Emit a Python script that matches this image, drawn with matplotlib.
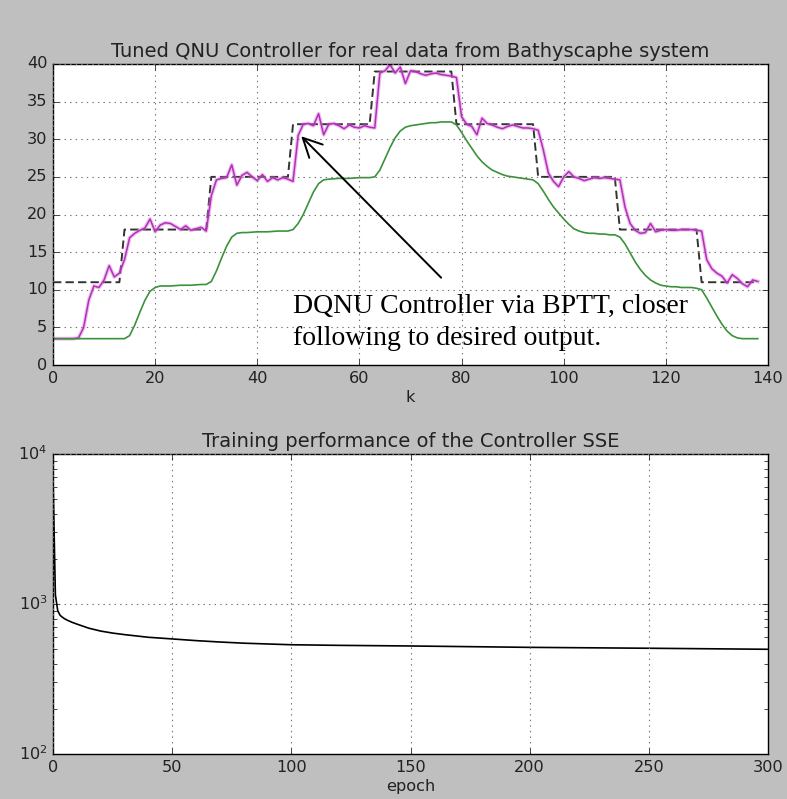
import numpy as np
import matplotlib
matplotlib.use("Agg")
import matplotlib.pyplot as plt

plt.style.use("classic")

# ---------------- data ----------------
desired = [11, 11, 11, 11, 11, 11, 11, 11, 11, 11, 11, 11, 11, 11,
           18, 18, 18, 18, 18, 18, 18, 18, 18, 18, 18, 18, 18, 18, 18, 18, 18,
           25, 25, 25, 25, 25, 25, 25, 25, 25, 25, 25, 25, 25, 25, 25, 25,
           32, 32, 32, 32, 32, 32, 32, 32, 32, 32, 32, 32, 32, 32, 32, 32,
           39, 39, 39, 39, 39, 39, 39, 39, 39, 39, 39, 39, 39, 39, 39, 39,
           32, 32, 32, 32, 32, 32, 32, 32, 32, 32, 32, 32, 32, 32, 32, 32,
           25, 25, 25, 25, 25, 25, 25, 25, 25, 25, 25, 25, 25, 25, 25, 25,
           18, 18, 18, 18, 18, 18, 18, 18, 18, 18, 18, 18, 18, 18, 18, 18,
           11, 11, 11, 11, 11, 11, 11, 11, 11, 11, 11, 11]

controlled = [3.5, 3.5, 3.5, 3.5, 3.5, 3.6, 5.0, 8.6, 10.5, 10.3,
              11.3, 13.2, 11.7, 12.2, 14.0, 16.9, 17.5, 17.9, 18.2, 19.4,
              17.7, 18.6, 18.9, 18.8, 18.4, 18.0, 18.5, 17.9, 18.1, 18.3,
              17.8, 22.5, 24.6, 24.8, 24.9, 26.6, 23.9, 25.2, 25.6, 25.0,
              24.5, 25.3, 24.4, 24.9, 24.6, 24.9, 24.7, 24.4, 30.5, 32.0,
              32.1, 31.8, 33.4, 30.6, 32.0, 32.1, 31.8, 31.4, 31.9, 31.6,
              31.5, 31.8, 31.6, 31.5, 38.8, 39.1, 39.9, 38.8, 39.6, 37.4,
              39.1, 39.0, 38.7, 38.5, 38.7, 38.8, 38.6, 38.5, 38.4, 38.2,
              33.0, 32.0, 31.7, 30.6, 32.8, 32.1, 31.9, 31.6, 31.4, 31.7,
              31.9, 31.7, 31.5, 31.5, 31.4, 31.2, 28.6, 25.5, 24.4, 23.7,
              25.0, 25.7, 25.0, 24.8, 24.5, 24.7, 24.9, 24.8, 24.9, 24.8,
              24.7, 24.6, 21.0, 18.8, 17.9, 17.5, 17.6, 18.8, 17.7, 17.9,
              18.0, 17.9, 17.9, 18.0, 18.0, 18.0, 17.9, 17.8, 14.0, 12.8,
              12.2, 11.8, 10.9, 12.0, 11.5, 10.8, 10.4, 11.3, 11.1]

tuned = [3.5, 3.5, 3.5, 3.5, 3.5, 3.5, 3.5, 3.5, 3.5, 3.5,
         3.5, 3.5, 3.5, 3.5, 3.5, 3.9, 5.3, 7.0, 8.6, 9.8,
         10.3, 10.5, 10.5, 10.5, 10.55, 10.6, 10.6, 10.6, 10.65, 10.7,
         10.7, 11.1, 12.5, 14.2, 15.8, 17.0, 17.5, 17.6, 17.6, 17.65,
         17.7, 17.7, 17.7, 17.75, 17.8, 17.8, 17.8, 18.0, 18.8, 20.0,
         21.5, 23.0, 24.1, 24.6, 24.7, 24.75, 24.8, 24.8, 24.8, 24.85,
         24.9, 24.9, 24.9, 25.0, 25.9, 27.4, 28.9, 30.2, 31.1, 31.6,
         31.8, 31.9, 32.0, 32.1, 32.2, 32.2, 32.3, 32.3, 32.3, 31.9,
         30.9, 29.8, 28.8, 27.8, 27.0, 26.4, 25.9, 25.6, 25.3, 25.1,
         25.0, 24.9, 24.8, 24.7, 24.6, 24.1, 23.1, 22.0, 21.0, 20.2,
         19.4, 18.7, 18.1, 17.8, 17.6, 17.5, 17.5, 17.4, 17.4, 17.3,
         17.3, 17.0, 16.1, 14.9, 13.7, 12.7, 11.9, 11.3, 10.9, 10.6,
         10.5, 10.4, 10.4, 10.3, 10.3, 10.3, 10.2, 10.0, 8.9, 7.7,
         6.5, 5.4, 4.5, 3.9, 3.6, 3.5, 3.5, 3.5, 3.5]

sse_epoch = [0, 1, 2, 3, 4, 5, 6, 8, 10, 15, 20, 25, 30, 40, 50, 60, 70,
             80, 100, 120, 150, 200, 250, 300]
sse_value = [7000, 1150, 900, 840, 815, 795, 780, 755, 735, 690, 660, 640,
             625, 600, 585, 570, 558, 548, 535, 530, 525, 514, 507, 499]

top_title = "Tuned QNU Controller for real data from Bathyscaphe system"
bottom_title = "Training performance of the Controller SSE"
note_line1 = "DQNU Controller via BPTT, closer"
note_line2 = "following to desired output."

# ---------------- figure ----------------
W, H = 787, 799
fig = plt.figure(figsize=(W / 100, H / 100), dpi=100, facecolor="#bfbfbf")

def rect(l, r, t, b):
    return [l / W, 1 - b / H, (r - l) / W, (b - t) / H]

ax1 = fig.add_axes(rect(53, 768, 64, 365))
ax2 = fig.add_axes(rect(53, 768, 454, 754))

tick_fs = 11.6
title_fs = 14.0
text_color = "#222222"

# top plot
ax1.plot(np.arange(len(desired)), desired, color="k", ls="--",
         dashes=(6, 3), lw=1.4, alpha=0.8)
ax1.plot(np.arange(len(controlled)), controlled, color="#e070e0",
         lw=2.8, alpha=0.45, solid_joinstyle="round")
ax1.plot(np.arange(len(controlled)), controlled, color="#b030b8", lw=1.1)
ax1.plot(np.arange(len(tuned)), tuned, color="#3a923a", lw=1.2)
ax1.set_xlim(0, 140)
ax1.set_ylim(0, 40)
ax1.set_xticks(np.arange(0, 141, 20))
ax1.set_yticks(np.arange(0, 41, 5))
ax1.grid(True, color="0.45", ls=":", lw=0.8)
ax1.set_title(top_title, fontsize=title_fs, color=text_color)
ax1.set_xlabel("k", fontsize=tick_fs, labelpad=3, color=text_color)
ax1.tick_params(labelsize=tick_fs, labelcolor=text_color)

ax1.annotate("", xy=(48.6, 30.4), xytext=(76.0, 11.6),
             arrowprops=dict(arrowstyle="->", color="k", lw=1.4,
                             mutation_scale=34, shrinkA=0, shrinkB=0))
ax1.text(47.05, 6.87, note_line1, family="Liberation Serif", fontsize=20,
         ha="left", va="baseline", zorder=5)
ax1.text(47.05, 2.66, note_line2, family="Liberation Serif", fontsize=20,
         ha="left", va="baseline", zorder=5)

# bottom plot
ax2.semilogy(sse_epoch, sse_value, color="k", lw=1.2)
ax2.set_xlim(0, 300)
ax2.set_ylim(1e2, 1e4)
ax2.set_xticks(np.arange(0, 301, 50))
ax2.grid(True, color="0.45", ls=":", lw=0.8)
ax2.set_title(bottom_title, fontsize=title_fs, color=text_color)
ax2.set_xlabel("epoch", fontsize=tick_fs, labelpad=3, color=text_color)
ax2.tick_params(labelsize=tick_fs, labelcolor=text_color)
ax2.tick_params(which="minor", length=3)

fig.savefig("out.png", dpi=100, facecolor=fig.get_facecolor())
